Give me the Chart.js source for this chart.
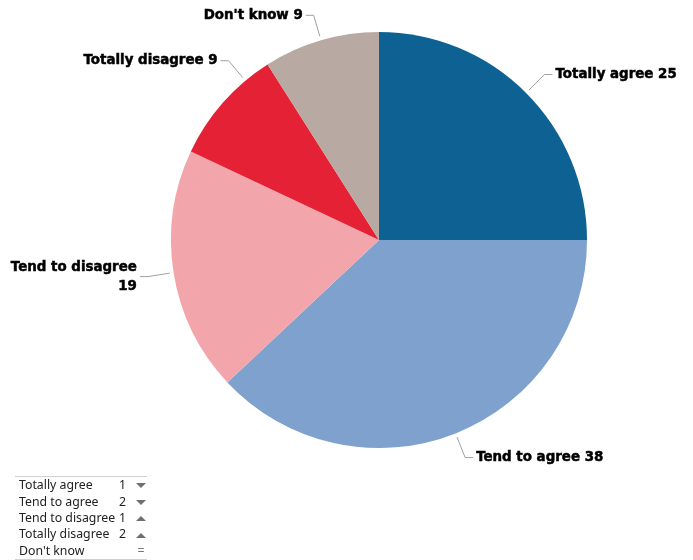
<!DOCTYPE html>
<html>
<head>
<meta charset="utf-8">
<script src="https://cdn.jsdelivr.net/npm/chart.js@4"></script>
<style>
  body { margin: 0; background: #fff; }
  #wrap { position: relative; width: 693px; height: 560px; }
  #changes {
    position: absolute; left: 15px; top: 476px; width: 132px;
    border-collapse: collapse;
    border-top: 1px solid #d0d0d0; border-bottom: 1px solid #d0d0d0;
    font: 12.3px "Noto Sans", sans-serif; color: #222;
  }
  #changes td { height: 16.4px; padding: 0; line-height: 16px; }
  #changes td.name { padding-left: 4px; }
  #changes td.num { text-align: right; padding-right: 9px; }
  #changes td.trend { width: 12px; text-align: center; color: #777; }
  .down, .up { display: inline-block; width: 0; height: 0;
    border-left: 5px solid transparent; border-right: 5px solid transparent; vertical-align: middle; }
  .down { border-top: 5px solid #707070; }
  .up { border-bottom: 5px solid #707070; }
</style>
</head>
<body>
<div id="wrap">
  <canvas id="pie" width="693" height="560"></canvas>
  <table id="changes"></table>
</div>
<script>
const categories = ['Totally agree', 'Tend to agree', 'Tend to disagree', 'Totally disagree', "Don't know"];
const shares = [25, 38, 19, 9, 9];
const changes = [1, 2, 1, 2, 0];
const trends = ['down', 'down', 'up', 'up', 'same'];
const sliceColors = ['#0e6193', '#7fa1cd', '#f2a6ac', '#e52235', '#b8a9a2'];

// table of changes under the pie
const table = document.getElementById('changes');
categories.forEach((name, i) => {
  const tr = document.createElement('tr');
  const trend = trends[i] === 'same' ? '=' : '<span class="' + trends[i] + '"></span>';
  tr.innerHTML = '<td class="name">' + name + '</td>' +
    '<td class="num">' + (changes[i] ? changes[i] : '') + '</td>' +
    '<td class="trend">' + trend + '</td>';
  table.appendChild(tr);
});

// outside labels with leader lines
const leaderLabels = {
  id: 'leaderLabels',
  afterDatasetsDraw(chart, args, opts) {
    const ctx = chart.ctx;
    const meta = chart.getDatasetMeta(0);
    ctx.save();
    ctx.font = 'bold 13.4px "DejaVu Sans", sans-serif';
    ctx.textBaseline = 'middle';
    meta.data.forEach((arc, i) => {
      const p = arc.getProps(['x', 'y', 'startAngle', 'endAngle', 'outerRadius'], true);
      const mid = (p.startAngle + p.endAngle) / 2 + (opts.shift[i] || 0) * Math.PI / 180;
      const c = Math.cos(mid), s = Math.sin(mid);
      const r0 = p.outerRadius + 4, r1 = p.outerRadius + 26;
      const x0 = p.x + c * r0, y0 = p.y + s * r0;
      const x1 = p.x + c * r1, y1 = p.y + s * r1;
      const dir = c >= 0 ? 1 : -1;
      const x2 = x1 + dir * 8;
      ctx.strokeStyle = '#a0a0a0';
      ctx.lineWidth = 1;
      ctx.beginPath();
      ctx.moveTo(x0, y0);
      ctx.lineTo(x1, y1);
      ctx.lineTo(x2, y1);
      ctx.stroke();

      const text = chart.data.labels[i] + ' ' + chart.data.datasets[0].data[i];
      const tx = x2 + dir * 3;
      const room = dir > 0 ? chart.width - tx - 4 : tx - 4;
      let lines = [text];
      if (ctx.measureText(text).width > room) {
        lines = [chart.data.labels[i], String(chart.data.datasets[0].data[i])];
      }
      ctx.fillStyle = '#000';
      ctx.strokeStyle = '#000';
      ctx.lineWidth = 0.5;
      ctx.textAlign = dir > 0 ? 'left' : 'right';
      const lh = 19;
      const top = y1 - (lines.length - 1) * lh / 2;
      lines.forEach((ln, k) => {
        ctx.fillText(ln, tx, top + k * lh);
        ctx.strokeText(ln, tx, top + k * lh);
      });
    });
    ctx.restore();
  }
};

new Chart(document.getElementById('pie'), {
  type: 'pie',
  data: {
    labels: categories,
    datasets: [{
      data: shares,
      backgroundColor: sliceColors,
      borderWidth: 0
    }]
  },
  options: {
    responsive: false,
    animation: false,
    layout: { padding: { left: 171, right: 106, top: 32, bottom: 112 } },
    plugins: {
      legend: { display: false },
      tooltip: { enabled: false },
      leaderLabels: { shift: [0, 0, 0, 8.6, 0] }
    }
  },
  plugins: [leaderLabels]
});
</script>
</body>
</html>
